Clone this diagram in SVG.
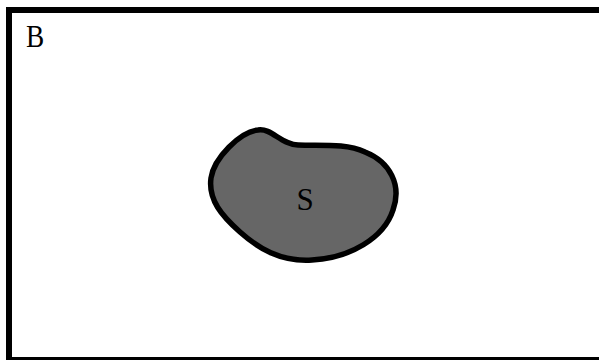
<svg xmlns="http://www.w3.org/2000/svg" width="599" height="360" viewBox="0 0 599 360">
<style>
.lbl{font-family:"Liberation Serif","DejaVu Serif",serif;fill:#000;font-size:31px}
</style>
<rect width="599" height="360" fill="#fff"/>
<g id="B">
<rect x="9" y="10" width="600" height="350" fill="none" stroke="#000" stroke-width="6"/>
<text class="lbl" x="26" y="47" transform="translate(26 0) scale(0.88 1) translate(-26 0)">B</text>
</g>
<g id="S">
<path d="M258,130 C272,128 280,144 298,145 C320,146 345,143 365,152 C390,162 402,185 393,210 C384,238 350,258 312,260 C280,262 258,248 240,232 C222,216 208,200 211,178 C214,158 240,132 258,130 Z" fill="#666" stroke="#000" stroke-width="5.5"/>
<text class="lbl" x="305" y="209.5" text-anchor="middle">S</text>
</g>
</svg>
